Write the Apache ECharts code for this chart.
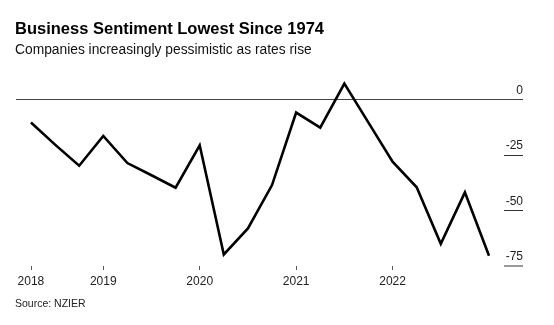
<!DOCTYPE html>
<html>
<head>
<meta charset="utf-8">
<script src="https://cdn.jsdelivr.net/npm/echarts@6/dist/echarts.min.js"></script>
<style>
  html, body { margin: 0; padding: 0; background: #fff; }
  #chart { width: 554px; height: 325px; }
</style>
</head>
<body>
<div id="chart"></div>
<script>
// Quarterly NZIER business sentiment (net %)
const quarters = [
  '2018 Q1','2018 Q2','2018 Q3','2018 Q4',
  '2019 Q1','2019 Q2','2019 Q3','2019 Q4',
  '2020 Q1','2020 Q2','2020 Q3','2020 Q4',
  '2021 Q1','2021 Q2','2021 Q3','2021 Q4',
  '2022 Q1','2022 Q2','2022 Q3','2022 Q4'
];
const sentiment = [
  -10.5, -20.4, -29.9, -16.5,
  -28.7, -34.2, -39.8, -20.7,
  -69.8, -58.1, -38.6, -6.0,
  -12.8, 7.0, -10.5, -28.1,
  -39.6, -65.0, -41.9, -70.4
];
// x tick labels and the quarter each one sits on
const yearLabels = ['2018', '2019', '2020', '2021', '2022'];
const yearLabelQuarters = ['2018 Q1', '2018 Q4', '2019 Q4', '2020 Q4', '2021 Q4'];
// y tick labels
const yTicks = [0, -25, -50, -75];
const yBaseTick = [-75];

const FONT = '"Liberation Sans", Arial, Helvetica, sans-serif';
const yearIdx = yearLabelQuarters.map(q => quarters.indexOf(q));
const seriesData = sentiment.map((v, i) => [i, v]);
const yUpperTicks = yTicks.filter(v => yBaseTick.indexOf(v) < 0);

const chart = echarts.init(document.getElementById('chart'), null, { renderer: 'canvas' });
chart.setOption({
  animation: false,
  backgroundColor: '#fff',
  title: [
    {
      text: 'Business Sentiment Lowest Since 1974',
      left: 15, top: 21, padding: 0,
      textStyle: { fontFamily: FONT, fontSize: 16.5, fontWeight: 'bold', color: '#000' }
    },
    {
      text: 'Companies increasingly pessimistic as rates rise',
      left: 15, top: 43, padding: 0,
      textStyle: { fontFamily: FONT, fontSize: 13.8, fontWeight: 'normal', color: '#111' }
    },
    {
      text: 'Source: NZIER',
      left: 15, top: 299, padding: 0,
      textStyle: { fontFamily: FONT, fontSize: 10.5, fontWeight: 'normal', color: '#222' }
    }
  ],
  grid: { left: 16, right: 31, top: 77, bottom: 59, containLabel: false },
  xAxis: {
    type: 'value',
    min: -0.62,
    max: 20.41,
    axisLine: { show: false, onZero: false },
    splitLine: { show: false },
    axisTick: {
      show: true, length: 4, customValues: yearIdx,
      lineStyle: { color: '#555', width: 1 }
    },
    axisLabel: {
      customValues: yearIdx,
      margin: 10,
      fontFamily: FONT, fontSize: 12, color: '#222',
      formatter: v => yearLabels[yearIdx.indexOf(Math.round(v))] || ''
    }
  },
  yAxis: [
    {
      type: 'value',
      position: 'right',
      min: -75,
      max: 10,
      axisLine: { show: false, onZero: false },
      splitLine: { show: false },
      axisTick: {
        show: true, inside: true, length: 19, customValues: yUpperTicks,
        lineStyle: { color: '#333', width: 1 }
      },
      axisLabel: {
        inside: true,
        customValues: yTicks,
        margin: 0,
        align: 'right',
        verticalAlign: 'bottom',
        padding: [0, 0, 3, 0],
        fontFamily: FONT, fontSize: 12, color: '#222',
        formatter: v => String(v)
      }
    },
    {
      type: 'value',
      position: 'right',
      min: -75,
      max: 10,
      axisLine: { show: false, onZero: false },
      splitLine: { show: false },
      axisLabel: { show: false },
      axisTick: {
        show: true, inside: true, length: 19, customValues: yBaseTick,
        lineStyle: { color: '#999', width: 2 }
      }
    }
  ],
  series: [{
    type: 'line',
    data: seriesData,
    symbol: 'none',
    clip: false,
    lineStyle: { color: '#000', width: 2.6, join: 'miter' },
    z: 3,
    markLine: {
      silent: true,
      symbol: 'none',
      label: { show: false },
      lineStyle: { color: '#444', width: 1, type: 'solid' },
      data: [{ yAxis: 0 }],
      z: 2
    }
  }]
});
</script>
</body>
</html>
